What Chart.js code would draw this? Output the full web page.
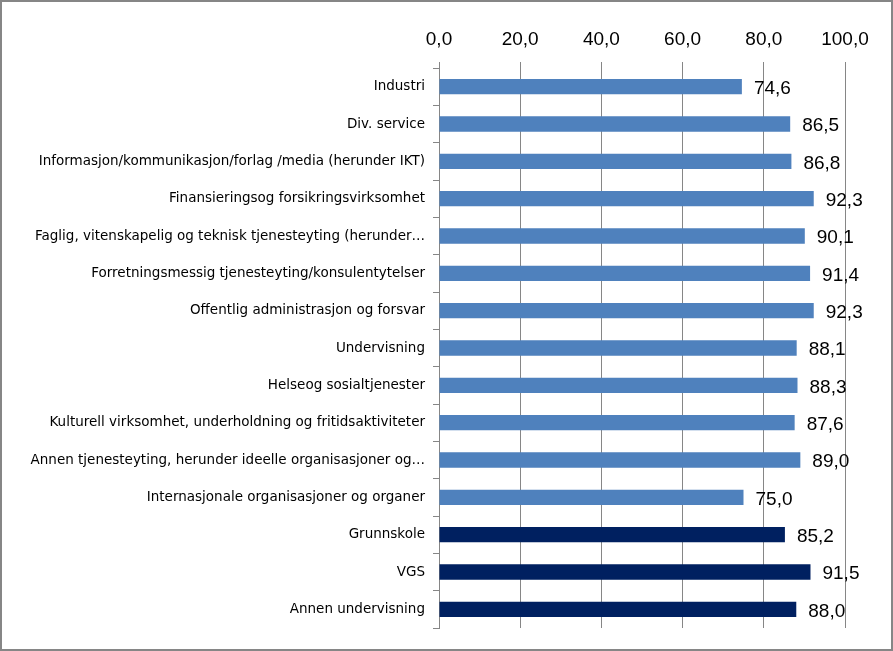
<!DOCTYPE html>
<html>
<head>
<meta charset="utf-8">
<script src="https://cdn.jsdelivr.net/npm/chart.js@4"></script>
<style>
  html,body{margin:0;padding:0;background:#fff;}
  #frame{width:893px;height:651px;box-sizing:border-box;border:2px solid #868686;background:#fff;}
  #chart{display:block;}
</style>
</head>
<body>
<div id="frame"><canvas id="chart" width="889" height="647"></canvas></div>
<script>
/* ── DATA ─────────────────────────────────────────────── */
const categories = [
  'Industri',
  'Div. service',
  'Informasjon/kommunikasjon/forlag /media (herunder IKT)',
  'Finansieringsog forsikringsvirksomhet',
  'Faglig, vitenskapelig og teknisk tjenesteyting (herunder…',
  'Forretningsmessig tjenesteyting/konsulentytelser',
  'Offentlig administrasjon og forsvar',
  'Undervisning',
  'Helseog sosialtjenester',
  'Kulturell virksomhet, underholdning og fritidsaktiviteter',
  'Annen tjenesteyting, herunder ideelle organisasjoner og…',
  'Internasjonale organisasjoner og organer',
  'Grunnskole',
  'VGS',
  'Annen undervisning'
];
const values = [74.6, 86.5, 86.8, 92.3, 90.1, 91.4, 92.3, 88.1, 88.3, 87.6, 89.0, 75.0, 85.2, 91.5, 88.0];
// first 12 are sectors (light blue), last 3 school types (navy)
const barGroups = ['s','s','s','s','s','s','s','s','s','s','s','s','u','u','u'];
const xTicks = [0, 20, 40, 60, 80, 100];

const fmt = v => v.toFixed(1).replace('.', ',');
const FONT = '"Liberation Sans", sans-serif';
const LABEL_FONT = '"DejaVu Sans", sans-serif';

/* value labels at the bar ends */
const valueLabels = {
  id: 'valueLabels',
  afterDatasetsDraw(chart){
    const ctx = chart.ctx;
    const meta = chart.getDatasetMeta(0);
    ctx.save();
    ctx.font = '19px ' + FONT;
    ctx.fillStyle = '#000';
    ctx.textAlign = 'left';
    ctx.textBaseline = 'middle';
    meta.data.forEach((bar, i) => {
      ctx.fillText(fmt(values[i]), bar.x + 12, bar.y + 2);
    });
    ctx.restore();
  }
};

new Chart(document.getElementById('chart'), {
  type: 'bar',
  data: {
    labels: categories,
    datasets: [{
      data: values,
      backgroundColor: barGroups.map(g => g === 'u' ? '#002060' : '#4F81BD'),
      borderWidth: 0,
      barPercentage: 0.41,
      categoryPercentage: 1
    }]
  },
  options: {
    indexAxis: 'y',
    responsive: false,
    animation: false,
    layout: { padding: { left: 0, right: 46, top: 0, bottom: 21 } },
    plugins: { legend: { display: false }, tooltip: { enabled: false } },
    scales: {
      x: {
        position: 'top',
        min: 0, max: 100,
        afterBuildTicks: s => { s.ticks = xTicks.map(v => ({ value: v })); },
        afterFit: s => { s.height = 66; },
        grid: { color: '#868686', lineWidth: 1, tickLength: 6, drawTicks: true },
        border: { display: false },
        ticks: {
          font: { family: FONT, size: 19 },
          color: '#000',
          padding: 11,
          callback: v => fmt(v)
        }
      },
      y: {
        afterFit: s => { s.width = 437; },
        grid: { offset: true, drawOnChartArea: false, tickLength: 6, color: '#868686' },
        border: { display: true, color: '#868686', width: 1 },
        ticks: {
          font: { family: LABEL_FONT, size: 13.5 },
          color: '#000',
          padding: 8,
          autoSkip: false
        }
      }
    }
  },
  plugins: [valueLabels]
});
</script>
</body>
</html>
